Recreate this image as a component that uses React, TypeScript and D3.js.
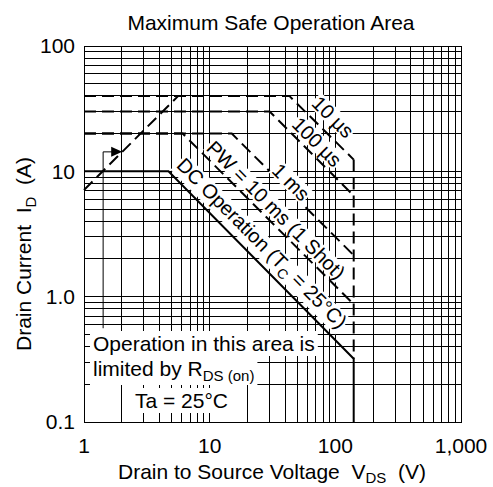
import { useLayoutEffect, useRef, useState } from "react";
import * as d3 from "d3";

// axis ticks
const xTickValues = [1, 10, 100, 1000];
const xTickLabels = ["1", "10", "100", "1,000"];
const yTickValues = [0.1, 1, 10, 100];
const yTickLabels = ["0.1", "1.0", "10", "100"];

// safe operation boundaries, [V_DS (V), I_D (A)]
const rdsLimit: [number, number][] = [
  [1, 7.1],
  [5.63, 40],
];
const dcCurve: [number, number][] = [
  [1, 10],
  [4.7, 10],
  [140, 0.32],
];
const pulse10us: [number, number][] = [
  [1, 40],
  [43, 40],
  [140, 12.4],
];
const pulse100us: [number, number][] = [
  [1, 30],
  [30, 30],
  [140, 6.4],
];
const pulse1ms: [number, number][] = [
  [1, 20],
  [15, 20],
  [140, 2.14],
];
const pulse10ms: [number, number][] = [
  [1, 20],
  [6.1, 20],
  [140, 0.87],
];
const pulseCurves = [pulse10us, pulse100us, pulse1ms, pulse10ms];

// leader arrow of the R_DS(on) note: V, I at top, I at bottom
const leaderV = 1.42;
const leaderTopI = 14.3;
const leaderBottomI = 0.56;

const font = "'Liberation Sans', Arial, Helvetica, sans-serif";

const width = 493;
const height = 487;
const margin = { top: 46, right: 32, bottom: 65, left: 84 };

function BoxedText({
  transform,
  anchor = "start",
  dy,
  padX = 3,
  padY = 1,
  fontSize = 21,
  children,
}: any) {
  const ref = useRef<SVGTextElement>(null);
  const [bb, setBb] = useState<any>(null);
  useLayoutEffect(() => {
    if (ref.current) {
      const b = ref.current.getBBox();
      setBb({ x: b.x, y: b.y, w: b.width, h: b.height });
    }
  }, []);
  return (
    <g transform={transform}>
      {bb && (
        <rect
          x={bb.x - padX}
          y={bb.y - padY}
          width={bb.w + 2 * padX}
          height={bb.h + 2 * padY}
          fill="#fff"
        />
      )}
      <text
        ref={ref}
        textAnchor={anchor}
        dy={dy}
        fontSize={fontSize}
        style={{ whiteSpace: "pre" }}
      >
        {children}
      </text>
    </g>
  );
}

export default function App() {
  const x = d3
    .scaleLog()
    .domain([1, 1000])
    .range([margin.left, width - margin.right]);
  const y = d3
    .scaleLog()
    .domain([0.1, 100])
    .range([height - margin.bottom, margin.top]);

  const line = d3
    .line<[number, number]>()
    .x((d) => x(d[0]))
    .y((d) => y(d[1]));

  const vEdge = dcCurve[dcCurve.length - 1][0];
  const dcEnd = dcCurve[dcCurve.length - 1][1];
  const pulseTop = d3.max(pulseCurves, (c) => c[c.length - 1][1]) as number;

  const tipV = leaderTopI / (rdsLimit[0][1] / rdsLimit[0][0]);

  const x0 = x(1);
  const x1 = x(1000);
  const y0 = y(0.1);
  const y1 = y(100);

  return (
    <svg
      width={width}
      height={height}
      style={{ position: "absolute", left: 0, top: 0, background: "#fff" }}
      fontFamily={font}
    >
      <rect width={width} height={height} fill="#fff" />
      <text x={271} y={30} textAnchor="middle" fontSize={21}>
        Maximum Safe Operation Area
      </text>

      {/* grid */}
      <g stroke="#000" strokeWidth={1} shapeRendering="crispEdges">
        {x.ticks().map((v) => (
          <line key={"x" + v} x1={x(v)} x2={x(v)} y1={y0} y2={y1} />
        ))}
        {y.ticks().map((v) => (
          <line key={"y" + v} x1={x0} x2={x1} y1={y(v)} y2={y(v)} />
        ))}
        <rect x={x0} y={y1} width={x1 - x0} height={y0 - y1} fill="none" />
      </g>

      {/* pulse limits */}
      <g fill="none" stroke="#000" strokeWidth={2} strokeDasharray="12,6">
        {pulseCurves.map((c, i) => (
          <path key={i} d={line(c) as string} />
        ))}
        <path
          d={
            line([
              [vEdge, pulseTop],
              [vEdge, dcEnd],
            ]) as string
          }
        />
        <path d={line(rdsLimit) as string} />
      </g>

      {/* DC operation */}
      <path
        d={line([...dcCurve, [vEdge, 0.1]]) as string}
        fill="none"
        stroke="#000"
        strokeWidth={2}
      />

      {/* leader arrow */}
      <path
        d={
          line([
            [leaderV, leaderBottomI],
            [leaderV, leaderTopI],
            [tipV * 0.93, leaderTopI],
          ]) as string
        }
        fill="none"
        stroke="#000"
        strokeWidth={1}
      />
      <path
        d={`M${x(tipV)},${y(leaderTopI)} l-11,-5 l0,10 z`}
        fill="#000"
      />

      {/* curve labels */}
      <BoxedText transform="translate(333,117) rotate(45)" anchor="middle" dy="0.35em" fontSize={20} padX={1} padY={-2}>
        10 µs
      </BoxedText>
      <BoxedText transform="translate(317,142) rotate(45)" anchor="middle" dy="0.35em" fontSize={20} padX={1} padY={-2}>
        100 µs
      </BoxedText>
      <BoxedText transform="translate(291,182) rotate(45)" anchor="middle" dy="0.35em" fontSize={20} padX={1} padY={-2}>
        1 ms
      </BoxedText>
      <BoxedText transform="translate(276,210) rotate(45)" anchor="middle" dy="0.35em" fontSize={20} padX={1} padY={-2}>
        PW = 10 ms (1 Shot)
      </BoxedText>
      <BoxedText transform="translate(262,243) rotate(45)" anchor="middle" dy="0.35em" fontSize={20} padX={1} padY={-2}>
        DC Operation (T
        <tspan fontSize={14} dy={5}>
          C
        </tspan>
        <tspan dy={-5}> = 25°C)</tspan>
      </BoxedText>

      {/* R_DS(on) note */}
      <BoxedText transform="translate(93,351)">Operation in this area is</BoxedText>
      <BoxedText transform="translate(93,376)">
        limited by R
        <tspan fontSize={15} dy={5}>
          DS (on)
        </tspan>
      </BoxedText>
      <BoxedText transform="translate(135,408)">Ta = 25°C</BoxedText>

      {/* tick labels */}
      <g fontSize={21}>
        {xTickValues.map((v, i) => (
          <text key={v} x={x(v)} y={453} textAnchor="middle">
            {xTickLabels[i]}
          </text>
        ))}
        {yTickValues.map((v, i) => (
          <text key={v} x={75} y={y(v)} dy="0.35em" textAnchor="end">
            {yTickLabels[i]}
          </text>
        ))}
      </g>

      {/* axis titles */}
      <text x={272} y={479} textAnchor="middle" fontSize={21} style={{ whiteSpace: "pre" }}>
        Drain to Source Voltage  V
        <tspan fontSize={15} dy={4}>
          DS
        </tspan>
        <tspan dy={-4}>  (V)</tspan>
      </text>
      <text
        transform="translate(31,254) rotate(-90)"
        textAnchor="middle"
        fontSize={21}
        style={{ whiteSpace: "pre" }}
      >
        Drain Current  I
        <tspan fontSize={15} dy={5}>
          D
        </tspan>
        <tspan dy={-5}>  (A)</tspan>
      </text>
    </svg>
  );
}
